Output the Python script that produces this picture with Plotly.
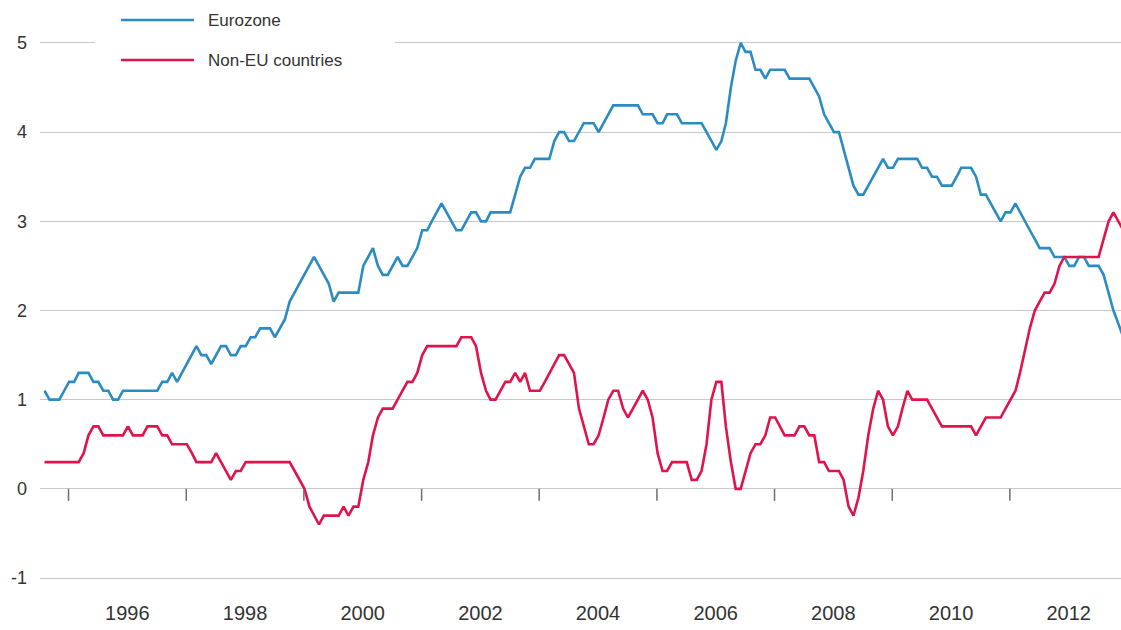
import pandas as pd
import plotly.graph_objects as go

# ---------------- data (monthly, Aug 1994 - Dec 2012) ----------------
FIRST_MONTH = "1994-08-01"

EUROZONE = (
    [1.1, 1.0, 1.0, 1.0, 1.1]                                            # 1994 Aug-Dec
    + [1.2, 1.2, 1.3, 1.3, 1.3, 1.2, 1.2, 1.1, 1.1, 1.0, 1.0, 1.1]       # 1995
    + [1.1, 1.1, 1.1, 1.1, 1.1, 1.1, 1.1, 1.2, 1.2, 1.3, 1.2, 1.3]       # 1996
    + [1.4, 1.5, 1.6, 1.5, 1.5, 1.4, 1.5, 1.6, 1.6, 1.5, 1.5, 1.6]       # 1997
    + [1.6, 1.7, 1.7, 1.8, 1.8, 1.8, 1.7, 1.8, 1.9, 2.1, 2.2, 2.3]       # 1998
    + [2.4, 2.5, 2.6, 2.5, 2.4, 2.3, 2.1, 2.2, 2.2, 2.2, 2.2, 2.2]       # 1999
    + [2.5, 2.6, 2.7, 2.5, 2.4, 2.4, 2.5, 2.6, 2.5, 2.5, 2.6, 2.7]       # 2000
    + [2.9, 2.9, 3.0, 3.1, 3.2, 3.1, 3.0, 2.9, 2.9, 3.0, 3.1, 3.1]       # 2001
    + [3.0, 3.0, 3.1, 3.1, 3.1, 3.1, 3.1, 3.3, 3.5, 3.6, 3.6, 3.7]       # 2002
    + [3.7, 3.7, 3.7, 3.9, 4.0, 4.0, 3.9, 3.9, 4.0, 4.1, 4.1, 4.1]       # 2003
    + [4.0, 4.1, 4.2, 4.3, 4.3, 4.3, 4.3, 4.3, 4.3, 4.2, 4.2, 4.2]       # 2004
    + [4.1, 4.1, 4.2, 4.2, 4.2, 4.1, 4.1, 4.1, 4.1, 4.1, 4.0, 3.9]       # 2005
    + [3.8, 3.9, 4.1, 4.5, 4.8, 5.0, 4.9, 4.9, 4.7, 4.7, 4.6, 4.7]       # 2006
    + [4.7, 4.7, 4.7, 4.6, 4.6, 4.6, 4.6, 4.6, 4.5, 4.4, 4.2, 4.1]       # 2007
    + [4.0, 4.0, 3.8, 3.6, 3.4, 3.3, 3.3, 3.4, 3.5, 3.6, 3.7, 3.6]       # 2008
    + [3.6, 3.7, 3.7, 3.7, 3.7, 3.7, 3.6, 3.6, 3.5, 3.5, 3.4, 3.4]       # 2009
    + [3.4, 3.5, 3.6, 3.6, 3.6, 3.5, 3.3, 3.3, 3.2, 3.1, 3.0, 3.1]       # 2010
    + [3.1, 3.2, 3.1, 3.0, 2.9, 2.8, 2.7, 2.7, 2.7, 2.6, 2.6, 2.6]       # 2011
    + [2.5, 2.5, 2.6, 2.6, 2.5, 2.5, 2.5, 2.4, 2.2, 2.0, 1.85, 1.7]      # 2012
)

NON_EU = (
    [0.3, 0.3, 0.3, 0.3, 0.3]                                            # 1994 Aug-Dec
    + [0.3, 0.3, 0.3, 0.4, 0.6, 0.7, 0.7, 0.6, 0.6, 0.6, 0.6, 0.6]       # 1995
    + [0.7, 0.6, 0.6, 0.6, 0.7, 0.7, 0.7, 0.6, 0.6, 0.5, 0.5, 0.5]       # 1996
    + [0.5, 0.4, 0.3, 0.3, 0.3, 0.3, 0.4, 0.3, 0.2, 0.1, 0.2, 0.2]       # 1997
    + [0.3, 0.3, 0.3, 0.3, 0.3, 0.3, 0.3, 0.3, 0.3, 0.3, 0.2, 0.1]       # 1998
    + [0.0, -0.2, -0.3, -0.4, -0.3, -0.3, -0.3, -0.3, -0.2, -0.3, -0.2, -0.2]  # 1999
    + [0.1, 0.3, 0.6, 0.8, 0.9, 0.9, 0.9, 1.0, 1.1, 1.2, 1.2, 1.3]       # 2000
    + [1.5, 1.6, 1.6, 1.6, 1.6, 1.6, 1.6, 1.6, 1.7, 1.7, 1.7, 1.6]       # 2001
    + [1.3, 1.1, 1.0, 1.0, 1.1, 1.2, 1.2, 1.3, 1.2, 1.3, 1.1, 1.1]       # 2002
    + [1.1, 1.2, 1.3, 1.4, 1.5, 1.5, 1.4, 1.3, 0.9, 0.7, 0.5, 0.5]       # 2003
    + [0.6, 0.8, 1.0, 1.1, 1.1, 0.9, 0.8, 0.9, 1.0, 1.1, 1.0, 0.8]       # 2004
    + [0.4, 0.2, 0.2, 0.3, 0.3, 0.3, 0.3, 0.1, 0.1, 0.2, 0.5, 1.0]       # 2005
    + [1.2, 1.2, 0.7, 0.3, 0.0, 0.0, 0.2, 0.4, 0.5, 0.5, 0.6, 0.8]       # 2006
    + [0.8, 0.7, 0.6, 0.6, 0.6, 0.7, 0.7, 0.6, 0.6, 0.3, 0.3, 0.2]       # 2007
    + [0.2, 0.2, 0.1, -0.2, -0.3, -0.1, 0.2, 0.6, 0.9, 1.1, 1.0, 0.7]    # 2008
    + [0.6, 0.7, 0.9, 1.1, 1.0, 1.0, 1.0, 1.0, 0.9, 0.8, 0.7, 0.7]       # 2009
    + [0.7, 0.7, 0.7, 0.7, 0.7, 0.6, 0.7, 0.8, 0.8, 0.8, 0.8, 0.9]       # 2010
    + [1.0, 1.1, 1.3, 1.55, 1.8, 2.0, 2.1, 2.2, 2.2, 2.3, 2.5, 2.6]      # 2011
    + [2.6, 2.6, 2.6, 2.6, 2.6, 2.6, 2.6, 2.8, 3.0, 3.1, 3.0, 2.9]       # 2012
)

SERIES_NAMES = ["Eurozone", "Non-EU countries"]
LABEL_YEARS = [1996, 1998, 2000, 2002, 2004, 2006, 2008, 2010, 2012]
TICK_MARK_YEARS = [1995, 1997, 1999, 2001, 2003, 2005, 2007, 2009, 2011]
Y_TICKS = [-1, 0, 1, 2, 3, 4, 5]

# ---------------- styling ----------------
BLUE = "#2A8CC2"
RED = "#E0144C"
GRID = "#C8C8C8"
TEXT = "#333333"

W, H = 1121, 630
M_L, M_R, M_T, M_B = 40, 0, 5, 40
PLOT_W = W - M_L - M_R
PLOT_H = H - M_T - M_B

dates = pd.date_range(FIRST_MONTH, periods=len(EUROZONE), freq="MS") + pd.Timedelta(days=4)

fig = go.Figure()
fig.add_trace(go.Scatter(x=dates, y=EUROZONE, name=SERIES_NAMES[0], mode="lines",
                         line=dict(color=BLUE, width=2.6), showlegend=False))
fig.add_trace(go.Scatter(x=dates, y=NON_EU, name=SERIES_NAMES[1], mode="lines",
                         line=dict(color=RED, width=2.6), showlegend=False))


def px_x(px):
    return (px - M_L) / PLOT_W


def px_y(py):
    return 1 - (py - M_T) / PLOT_H


shapes = []
# short tick marks hanging below the zero line, at odd years
for yr in TICK_MARK_YEARS:
    shapes.append(dict(type="line", xref="x", yref="y", ysizemode="pixel", yanchor=0,
                       x0=f"{yr}-01-01", x1=f"{yr}-01-01", y0=0, y1=-12,
                       line=dict(color="#6E6E6E", width=1.5), layer="above"))
# white legend box masking the top gridline
shapes.append(dict(type="rect", xref="paper", yref="paper",
                   x0=px_x(95), x1=px_x(395), y0=px_y(80), y1=px_y(0),
                   fillcolor="white", line=dict(width=0), layer="above"))
# legend line samples
for py, col in [(20, BLUE), (60, RED)]:
    shapes.append(dict(type="line", xref="paper", yref="paper",
                       x0=px_x(121), x1=px_x(194), y0=px_y(py), y1=px_y(py),
                       line=dict(color=col, width=2.6), layer="above"))

annotations = []
for py, name in [(20, SERIES_NAMES[0]), (60, SERIES_NAMES[1])]:
    annotations.append(dict(xref="paper", yref="paper", x=px_x(206), y=px_y(py),
                            xanchor="left", yanchor="middle", showarrow=False,
                            text=name, font=dict(family="Liberation Sans, Arial", size=17, color=TEXT)))

fig.update_layout(
    width=W, height=H,
    margin=dict(l=M_L, r=M_R, t=M_T, b=M_B),
    paper_bgcolor="white", plot_bgcolor="white",
    shapes=shapes, annotations=annotations,
    showlegend=False,
    xaxis=dict(
        type="date",
        range=["1994-07-08", "2012-11-21"],
        tickvals=[f"{y}-01-01" for y in LABEL_YEARS],
        ticktext=[str(y) for y in LABEL_YEARS],
        ticks="", showgrid=False, zeroline=False, showline=False,
        tickfont=dict(family="Liberation Sans, Arial", size=20, color=TEXT),
        ticklabelstandoff=9,
    ),
    yaxis=dict(
        range=[-1.1345, 5.426],
        tickvals=Y_TICKS,
        ticktext=[str(v) for v in Y_TICKS],
        ticks="", showgrid=True, gridcolor=GRID, gridwidth=1,
        zeroline=False, showline=False,
        tickfont=dict(family="Liberation Sans, Arial", size=18, color=TEXT),
        ticklabelstandoff=12,
    ),
)

fig.write_html(
    "out.html",
    config={"displayModeBar": False},
    post_script="document.body.style.margin='0';document.body.style.overflow='hidden';",
)
